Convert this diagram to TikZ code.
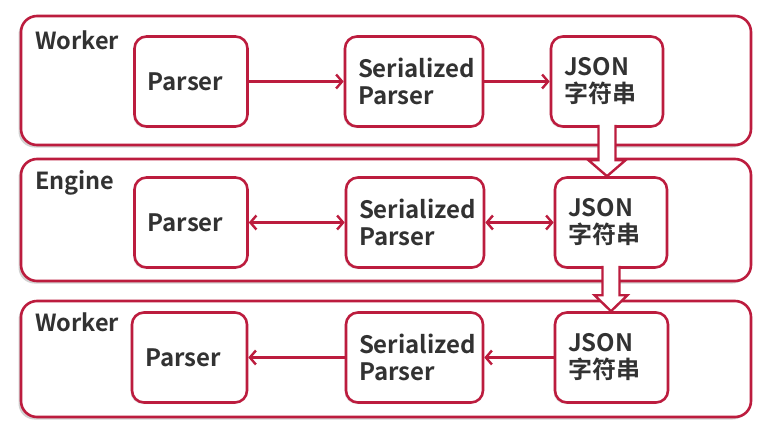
\documentclass[tikz,border=0pt]{standalone}
\usepackage{fontspec}
\setmainfont{Noto Sans CJK SC}[BoldFont={Noto Sans CJK SC Bold}]
\usetikzlibrary{arrows.meta, calc, shadows}
\definecolor{linkred}{RGB}{188,28,62}
\definecolor{inkgray}{RGB}{50,50,50}
\tikzset{>={Straight Barb[length=6pt, width=14pt]}}

\begin{document}
\begin{tikzpicture}[x=1pt, y=-1pt,
  panel/.style={draw=linkred, line width=2.6pt, rounded corners=16pt, fill=white,
    minimum width=730pt, inner sep=0pt,
    drop shadow={shadow xshift=-2.5pt, shadow yshift=-2.5pt, opacity=0.35}},
  box/.style={draw=linkred, line width=2.6pt, rounded corners=12pt, fill=white,
    minimum height=90pt, inner xsep=13pt, inner ysep=0pt, text width=#1, align=left,
    font=\bfseries\fontsize{24}{27}\selectfont, text=inkgray,
    drop shadow={shadow xshift=-1.5pt, shadow yshift=-1.5pt, opacity=0.2}},
  title/.style={anchor=base west, inner sep=0pt, text=inkgray,
    font=\bfseries\fontsize{23.5}{26}\selectfont},
  link/.style={draw=linkred, line width=2.4pt},
  fatarrow/.style={draw=linkred, line width=2.4pt, fill=white, line join=miter}]
\fill[white] (0,0) rectangle (761,426);
\useasboundingbox (0,0) rectangle (761,426);

% first worker
\node[panel, minimum height=129pt] (worker1) at (386,80.5) {};
\node[title] (lw1) at (35,49) {Worker};
\node[box=87pt] (p1) at (191,81.5) {Parser};
\node[box=112pt] (s1) at (414,81.5) {Serialized\\Parser};
\node[box=86pt] (j1) at (607,81.5) {JSON\\字符串};
\draw[link, ->] (p1) -- (s1);
\draw[link, ->] (s1) -- (j1);

% engine
\node[panel, minimum height=122pt] (engine) at (386,220) {};
\node[title] (le) at (35,189) {Engine};
\node[box=87pt] (p2) at (191,222.5) {Parser};
\node[box=112pt] (s2) at (415,222.5) {Serialized\\Parser};
\node[box=86pt] (j2) at (611,222.5) {JSON\\字符串};
\draw[link, <->] (p2) -- (s2);
\draw[link, <->] (s2) -- (j2);

% second worker
\node[panel, minimum height=116pt] (worker2) at (386,359) {};
\node[title] (lw2) at (35,331) {Worker};
\node[box=89pt] (p3) at (189.5,357.5) {Parser};
\node[box=111pt] (s3) at (414.5,357.5) {Serialized\\Parser};
\node[box=87pt] (j3) at (611.5,357.5) {JSON\\字符串};
\draw[link, ->] (j3) -- (s3);
\draw[link, ->] (s3) -- (p3);

% hand over between the JSON boxes
\draw[fatarrow] let \p1=(j1.south), \p2=(j2.north) in
  (\x1-8.5pt,\y1+3pt) -- (\x1-8.5pt,\y2+16pt) -- (\x1-18.5pt,\y2+16pt) -- (\x1,\y2)
  -- (\x1+18.5pt,\y2+16pt) -- (\x1+8.5pt,\y2+16pt) -- (\x1+8.5pt,\y1+3pt);
\draw[fatarrow] let \p1=(j2.south), \p2=(j3.north) in
  (\x1-8.5pt,\y1+3pt) -- (\x1-8.5pt,\y2+16pt) -- (\x1-16.5pt,\y2+16pt) -- (\x1,\y2)
  -- (\x1+16.5pt,\y2+16pt) -- (\x1+8.5pt,\y2+16pt) -- (\x1+8.5pt,\y1+3pt);
\end{tikzpicture}
\end{document}
